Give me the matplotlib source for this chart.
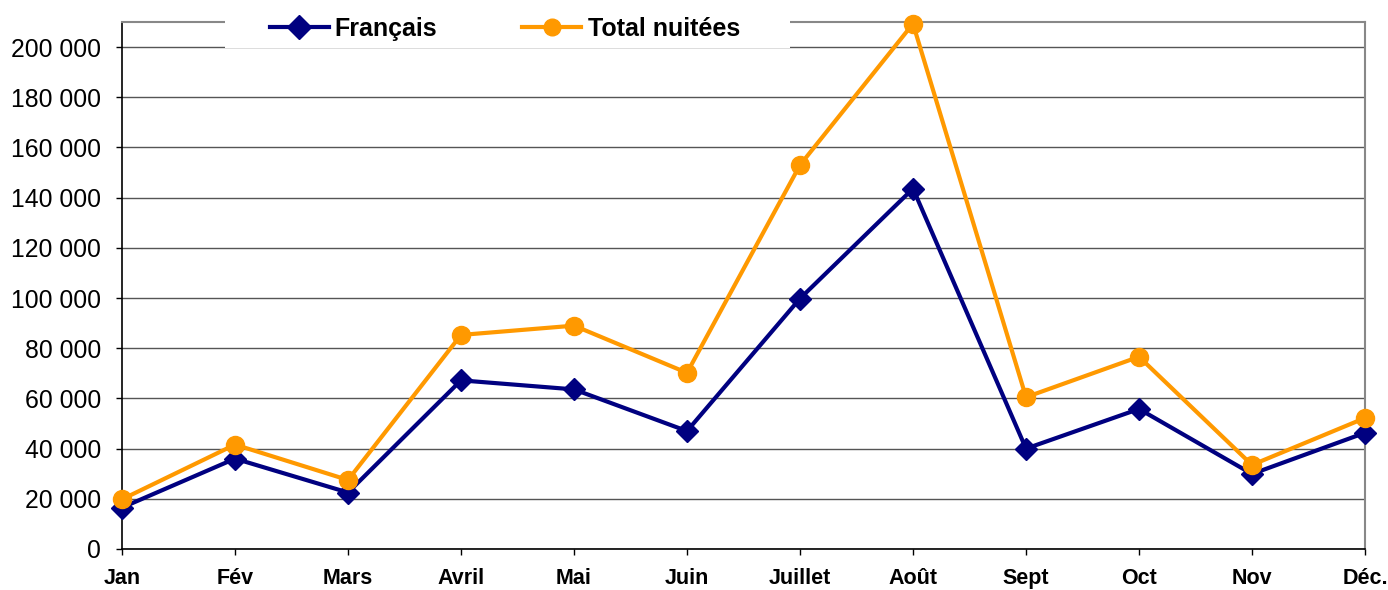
import matplotlib
matplotlib.use("Agg")
import matplotlib.pyplot as plt
from matplotlib.patches import Rectangle

months = ["Jan", "Fév", "Mars", "Avril", "Mai", "Juin", "Juillet", "Août",
          "Sept", "Oct", "Nov", "Déc."]
francais = [16500, 36000, 22500, 67200, 63600, 47000, 99800, 143600,
            40000, 55800, 29900, 46300]
total = [19800, 41600, 27500, 85300, 89000, 70200, 153000, 209300,
         60500, 76600, 33500, 52200]
y_ticks = [0, 20000, 40000, 60000, 80000, 100000, 120000, 140000,
           160000, 180000, 200000]
y_tick_labels = ["0", "20 000", "40 000", "60 000", "80 000", "100 000",
                 "120 000", "140 000", "160 000", "180 000", "200 000"]

plt.rcParams['font.family'] = ['Liberation Sans', 'DejaVu Sans']

W, H = 1388, 590
fig = plt.figure(figsize=(W / 100, H / 100), dpi=100)
ax = fig.add_axes([122 / W, 1 - 549 / H, (1365 - 122) / W, (549 - 22) / H])

x = list(range(len(months)))
ax.plot(x, francais, color="#000080", lw=3, marker="D", ms=11.5,
        label="Français", zorder=3, clip_on=False)
ax.plot(x, total, color="#FF9900", lw=3, marker="o", ms=13,
        label="Total nuitées", zorder=4, clip_on=False)

ax.set_xlim(0, len(months) - 1)
ax.set_ylim(0, 210000)
ax.set_yticks(y_ticks)
ax.set_yticklabels(y_tick_labels, fontsize=17.8)
ax.set_xticks(x)
ax.set_xticklabels(months, fontsize=15.5, fontweight="bold")
ax.tick_params(axis="y", length=4.5, width=1, pad=10.5, color="black")
ax.tick_params(axis="x", length=4.5, width=1, pad=9.5, color="black")

ax.grid(axis="y", color="#555555", lw=1.0)
ax.set_axisbelow(True)
for s in ["top", "right"]:
    ax.spines[s].set_color("#888888")
    ax.spines[s].set_linewidth(1.5)
for s in ["left", "bottom"]:
    ax.spines[s].set_color("black")
    ax.spines[s].set_linewidth(1.2)

# white legend box covering top of plot
fig.patches.append(Rectangle((225 / W, 1 - 48 / H), (790 - 225) / W, 48 / H,
                             transform=fig.transFigure, facecolor="white",
                             edgecolor="none", zorder=1))
leg = fig.legend(loc="center left", bbox_to_anchor=(257 / W, 1 - 29 / H),
                 ncol=2, frameon=False, borderpad=0, handlelength=2.36,
                 handletextpad=0.25, columnspacing=3.4,
                 prop={"weight": "bold", "size": 18})
leg.set_zorder(5)
for h in leg.legend_handles:
    h.set_markersize(12)

fig.savefig("out.png", dpi=100)
